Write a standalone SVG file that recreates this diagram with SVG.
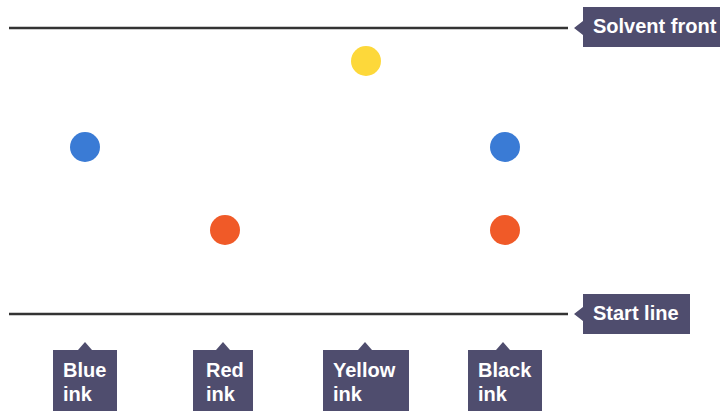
<svg xmlns="http://www.w3.org/2000/svg" width="726" height="411" viewBox="0 0 726 411">
<style>
.line{stroke:#333;stroke-width:2.5;fill:none}
.lab{fill:#4f4d6e}
.t{font-family:"Liberation Sans",Arial,sans-serif;font-weight:bold;font-size:20px;fill:#fff}
.blue{fill:#3a7bd5}.red{fill:#f05a28}.yel{fill:#fdd83a}
</style>
<rect width="726" height="411" fill="#fff"/>
<g id="connectors">
<line class="line" x1="9" y1="28" x2="568" y2="28"/>
<line class="line" x1="9" y1="314" x2="568" y2="314"/>
</g>
<g id="solvent-front"><path class="lab" d="M583 7H720V47H583V35L574 28L583 21Z"/><text class="t" x="593" y="33">Solvent front</text></g>
<g id="start-line"><path class="lab" d="M583 294H690V334H583V321L574 314L583 307Z"/><text class="t" x="593" y="320">Start line</text></g>
<g id="blue-ink"><path class="lab" d="M53 350H78L85 342L92 350H117V411H53Z"/><text class="t" x="63" y="377">Blue</text><text class="t" x="63" y="401">ink</text></g>
<g id="red-ink"><path class="lab" d="M193 350H216L223 342L230 350H253V411H193Z"/><text class="t" x="206" y="377">Red</text><text class="t" x="206" y="401">ink</text></g>
<g id="yellow-ink"><path class="lab" d="M323 350H358L365 342L372 350H409V411H323Z"/><text class="t" x="333" y="377">Yellow</text><text class="t" x="333" y="401">ink</text></g>
<g id="black-ink"><path class="lab" d="M468 350H496L503 342L510 350H542V411H468Z"/><text class="t" x="478" y="377">Black</text><text class="t" x="478" y="401">ink</text></g>
<g id="dots">
<circle class="blue" cx="85" cy="147" r="15"/>
<circle class="red" cx="225" cy="230" r="15"/>
<circle class="yel" cx="366" cy="61" r="15"/>
<circle class="blue" cx="505" cy="147" r="15"/>
<circle class="red" cx="505" cy="230" r="15"/>
</g>
</svg>
